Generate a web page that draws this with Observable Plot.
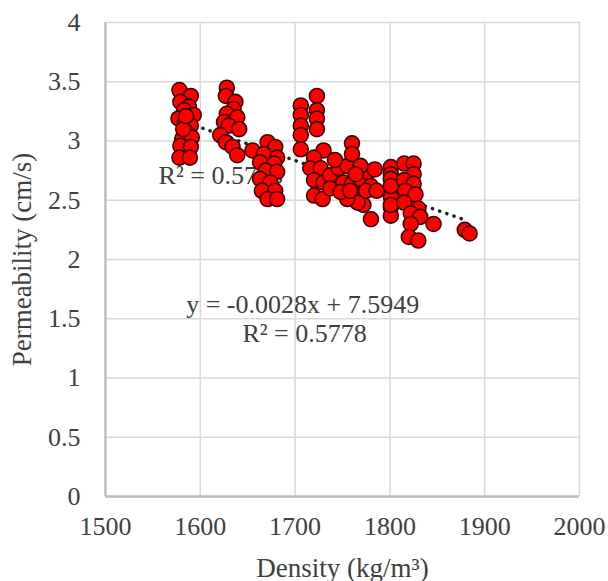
<!DOCTYPE html>
<html>
<head>
<meta charset="utf-8">
<script src="https://cdn.jsdelivr.net/npm/d3@7"></script>
<script src="https://cdn.jsdelivr.net/npm/@observablehq/plot@0.6"></script>
<style>
  html, body { margin: 0; padding: 0; background: #fff; }
  svg text { font-family: "Liberation Serif", "Times New Roman", serif; }
</style>
</head>
<body>
<div id="chart"></div>
<script>
// Data
const density = [
  1578,1590,1579,1588,1583,1593,1577,1584,1590,1586,1581,1591,1579,1590,1578,1589,1582,1585,
  1628,1627,1637,1635,1628,1639,1625,1630,1641,1621,1627,1634,1639,1655,
  1671,1679,1667,1681,1663,1678,1669,1681,1663,1674,1665,1679,1671,1681,
  1706,1706,1706,1706,1706,1723,1723,1723,1723,
  1730,1720,1716,1727,1720,1730,1720,1729,1737,1737,1746,1755,1760,1760,1751,1760,1769,1776,1769,1780,1772,1766,1755,1780,1748,1769,
  1742,1764,1758,1775,1784,1786,
  1801,1801,1802,1801,1801,1801,1801,1801,1801,
  1815,1825,1825,1815,1825,1816,1827,1815,1830,1822,1832,1822,1846,1820,1830,1879,1884
];
const permeability = [
  3.43,3.38,3.33,3.29,3.26,3.22,3.19,3.16,3.13,3.07,3.02,3.03,2.96,2.95,2.86,2.86,3.10,3.21,
  3.45,3.38,3.33,3.27,3.23,3.20,3.16,3.13,3.10,3.05,2.99,2.95,2.88,2.92,
  2.99,2.95,2.89,2.86,2.82,2.81,2.75,2.74,2.68,2.65,2.58,2.58,2.51,2.51,
  3.30,3.22,3.13,3.05,2.93,3.38,3.26,3.19,3.10,
  2.92,2.86,2.77,2.77,2.67,2.65,2.54,2.51,2.71,2.60,2.77,2.79,2.98,2.89,2.65,2.64,2.68,2.74,2.54,2.62,2.46,2.48,2.51,2.34,2.57,2.79,
  2.84,2.72,2.58,2.58,2.76,2.58,
  2.78,2.72,2.64,2.53,2.44,2.37,2.68,2.62,2.46,
  2.81,2.81,2.72,2.67,2.64,2.58,2.55,2.48,2.43,2.39,2.36,2.30,2.30,2.19,2.16,2.25,2.22
];
const xTicks = [1500, 1600, 1700, 1800, 1900, 2000];
const yTicks = [0, 0.5, 1, 1.5, 2, 2.5, 3, 3.5, 4];
const trendSlope = -0.0028;
const trendIntercept = 7.5949;
const trendRange = [1580, 1882];
const equationText = "y = -0.0028x + 7.5949";
const r2Text = "R² = 0.5778";
const xLabel = "Density (kg/m³)";
const yLabel = "Permeability (cm/s)";

const points = density.map((d, i) => ({x: d, y: permeability[i]}));
const trend = trendRange.map(x => ({x, y: trendSlope * x + trendIntercept}));
const textColor = "#404040";
const serif = "'Liberation Serif', 'Times New Roman', serif";

const chart = Plot.plot({
  width: 608,
  height: 581,
  marginLeft: 105,
  marginRight: 29,
  marginTop: 22,
  marginBottom: 85,
  style: {fontFamily: serif, fontSize: "26px", color: textColor, background: "#fff"},
  x: {domain: [1500, 2000]},
  y: {domain: [0, 4]},
  marks: [
    Plot.gridX(xTicks, {stroke: "#d9d9d9", strokeOpacity: 1, strokeWidth: 1.5}),
    Plot.gridY(yTicks, {stroke: "#d9d9d9", strokeOpacity: 1, strokeWidth: 1.5}),
    Plot.ruleX([1500], {stroke: "#bfbfbf", strokeWidth: 2.5}),
    Plot.ruleY([0], {stroke: "#bfbfbf", strokeWidth: 2.5}),
    Plot.axisX({ticks: xTicks, tickSize: 0, tickPadding: 20, tickFormat: d => String(d), label: null, fontSize: 26, fontFamily: serif, fill: textColor}),
    Plot.axisY({ticks: yTicks, tickSize: 0, tickPadding: 25, tickFormat: d => String(d), label: null, fontSize: 26, fontFamily: serif, fill: textColor}),
    Plot.text([xLabel], {frameAnchor: "bottom", dy: 80, lineAnchor: "bottom", textAnchor: "middle", fontSize: 27, fontFamily: serif, fill: textColor}),
    Plot.text([yLabel], {frameAnchor: "left", dx: -83, rotate: -90, textAnchor: "middle", fontSize: 27, fontFamily: serif, fill: textColor}),
    Plot.text([r2Text], {x: [1556], y: [2.64], text: d => d, textAnchor: "start", lineAnchor: "bottom", fontSize: 26, fontFamily: serif, fill: textColor}),
    Plot.line(trend, {x: "x", y: "y", stroke: "#1f1f2a", strokeWidth: 3.5, strokeDasharray: "0.1,7.5", strokeLinecap: "round"}),
    Plot.dot(points, {x: "x", y: "y", r: 7.5, fill: "#ff0000", stroke: "#3a0505", strokeWidth: 1.6}),
    Plot.text([equationText], {x: [1708], y: [1.55], lineAnchor: "bottom", fontSize: 26, fontFamily: serif, fill: textColor}),
    Plot.text([r2Text], {x: [1710], y: [1.30], lineAnchor: "bottom", fontSize: 26, fontFamily: serif, fill: textColor})
  ]
});
document.getElementById("chart").appendChild(chart);
</script>
</body>
</html>
